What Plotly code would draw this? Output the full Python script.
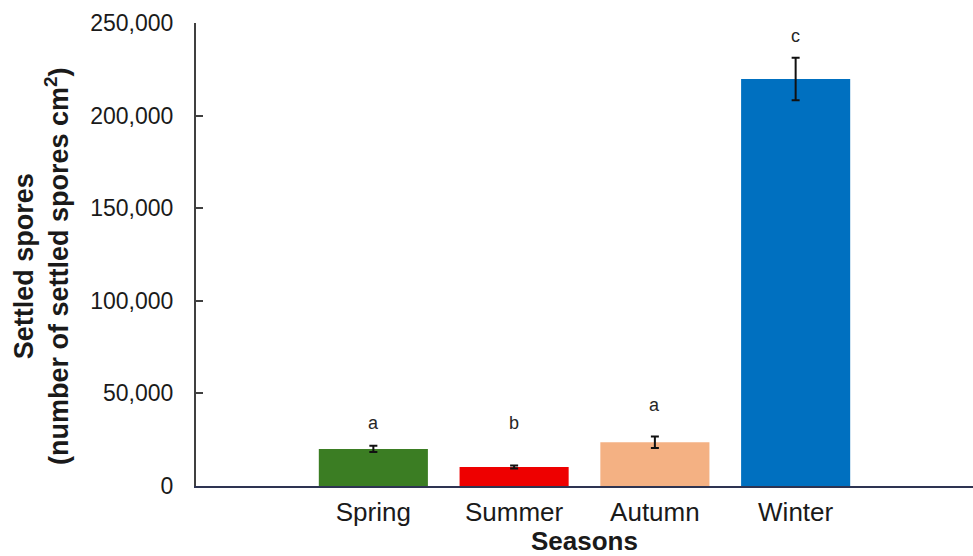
import plotly.graph_objects as go

# Seasonal settlement of spores (mean ± error)
seasons = ["Spring", "Summer", "Autumn", "Winter"]
settled = [20000, 10300, 23600, 219800]
errors = [1700, 800, 3100, 11450]
colors = ["#3B7D23", "#EE0000", "#F4B183", "#0070C0"]

# significance letters and their heights
letters = ["a", "b", "a", "c"]
letter_y = [33900, 33900, 43700, 243000]

tick_vals = [0, 50000, 100000, 150000, 200000, 250000]
tick_text = ["0", "50,000", "100,000", "150,000", "200,000", "250,000"]

FONT = "Liberation Sans, Arial, sans-serif"

fig = go.Figure()
fig.add_trace(go.Bar(
    x=list(range(len(seasons))),
    y=settled,
    width=0.775,
    marker=dict(color=colors, line=dict(width=0)),
    error_y=dict(type="data", array=errors, visible=True,
                 color="#111111", thickness=2, width=4),
    showlegend=False,
))

for i, (lab, ly) in enumerate(zip(letters, letter_y)):
    fig.add_annotation(x=i, y=ly, text=lab, showarrow=False,
                       xref="x", yref="y", yanchor="middle",
                       font=dict(family=FONT, size=18, color="#262626"))

# two-line rotated y-axis title
fig.add_annotation(
    x=-0.1995, y=0.475, xref="paper", yref="paper",
    text="<b>Settled spores<br>(number of settled spores cm<sup>2</sup>)</b>",
    textangle=-90, showarrow=False, xanchor="center", yanchor="middle",
    font=dict(family=FONT, size=27, color="#1a1a1a"),
)

fig.update_layout(
    width=973, height=556,
    margin=dict(l=196, r=0, t=23, b=70),
    paper_bgcolor="white", plot_bgcolor="white",
    font=dict(family=FONT, color="#1a1a1a"),
    xaxis=dict(
        range=[-1.26, 4.26],
        tickmode="array", tickvals=list(range(len(seasons))), ticktext=seasons,
        tickfont=dict(family=FONT, size=26, color="#1a1a1a"),
        showline=True, linecolor="#2E3452", linewidth=2,
        ticks="", showgrid=False, zeroline=False,
        ticklabelstandoff=2,
        title=dict(text="<b>Seasons</b>", font=dict(family=FONT, size=26, color="#1a1a1a"),
                   standoff=5),
    ),
    yaxis=dict(
        range=[0, 250000],
        tickmode="array", tickvals=tick_vals, ticktext=tick_text,
        tickfont=dict(family=FONT, size=23, color="#1a1a1a"),
        showline=True, linecolor="#404040", linewidth=2,
        ticks="inside", ticklen=7, tickwidth=1.5, tickcolor="#404040",
        showgrid=False, zeroline=False,
        ticklabelstandoff=16,
    ),
)

fig.write_html("out.html")
